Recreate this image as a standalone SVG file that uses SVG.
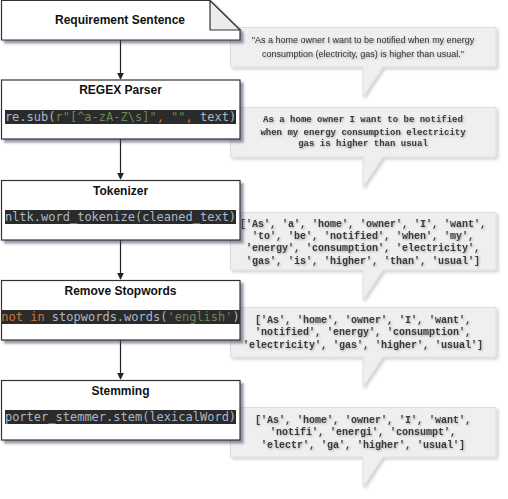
<svg xmlns="http://www.w3.org/2000/svg" width="508" height="499" viewBox="0 0 508 499">
<defs>
<filter id="sh" x="-10%" y="-10%" width="130%" height="140%">
<feDropShadow dx="3" dy="3" stdDeviation="1.3" flood-color="#3c4260" flood-opacity="0.55"/>
</filter>
<filter id="csh" x="-10%" y="-10%" width="130%" height="140%">
<feDropShadow dx="2" dy="2" stdDeviation="1.5" flood-color="#000" flood-opacity="0.18"/>
</filter>
<filter id="tsh" x="-5%" y="-20%" width="115%" height="160%">
<feDropShadow dx="1" dy="1" stdDeviation="0.8" flood-color="#000" flood-opacity="0.3"/>
</filter>
<marker id="arr" viewBox="0 0 10 10" refX="9" refY="5" markerWidth="7" markerHeight="7" markerUnits="userSpaceOnUse" orient="auto">
<path d="M0,0 L10,5 L0,10 Z" fill="#222"/>
</marker>
</defs>
<style>
.box{fill:#fff;stroke:#333;stroke-width:1.2}
.title{font-family:"Liberation Sans",Arial,sans-serif;font-weight:bold;font-size:12px;fill:#111;text-anchor:middle}
.bar{fill:#2b2b2b}
.code{font-family:"DejaVu Sans Mono",monospace;font-size:12px;fill:#a9b7c6;text-anchor:middle}
.g{fill:#6a8759}
.o{fill:#cc7832}
.call{fill:#efefef;stroke:#dddddd;stroke-width:1}
.ct{font-family:"Liberation Sans",Arial,sans-serif;font-size:9px;fill:#333;text-anchor:middle}
.mt{font-family:"Liberation Mono","Courier New",monospace;font-size:10px;font-weight:bold;fill:#3a3a3a;text-anchor:middle}
.mt9{font-size:9px}
.edge{stroke:#222;stroke-width:1.2;fill:none}
</style>

<g id="connectors">
<path class="edge" d="M120.5,40 V79" marker-end="url(#arr)"/>
<path class="edge" d="M120.5,139 V179" marker-end="url(#arr)"/>
<path class="edge" d="M120.5,240 V279" marker-end="url(#arr)"/>
<path class="edge" d="M120.5,340 V379" marker-end="url(#arr)"/>
</g>

<g id="callout1" filter="url(#csh)">
<path class="call" d="M230.5,27.5 H496 V67 H383 L363,97 V67 H230.5 Z"/>
<g filter="url(#tsh)">
<text class="ct" x="363" y="43">"As a home owner I want to be notified when my energy</text>
<text class="ct" x="363" y="57">consumption (electricity, gas) is higher than usual."</text>
</g>
</g>

<g id="callout2" filter="url(#csh)">
<path class="call" d="M230.5,107.5 H496 V157 H383 L363,187 V157 H230.5 Z"/>
<g filter="url(#tsh)">
<text class="mt mt9" x="363" y="122">As a home owner I want to be notified</text>
<text class="mt mt9" x="363" y="134.5">when my energy consumption electricity</text>
<text class="mt mt9" x="363" y="146">gas is higher than usual</text>
</g>
</g>

<g id="callout3" filter="url(#csh)">
<path class="call" d="M230.5,212.5 H496 V270 H383 L363,300 V270 H230.5 Z"/>
<g filter="url(#tsh)">
<text class="mt" x="363" y="226.5">['As', 'a', 'home', 'owner', 'I', 'want',</text>
<text class="mt" x="363" y="239">'to', 'be', 'notified', 'when', 'my',</text>
<text class="mt" x="363" y="251">'energy', 'consumption', 'electricity',</text>
<text class="mt" x="363" y="263.5">'gas', 'is', 'higher', 'than', 'usual']</text>
</g>
</g>

<g id="callout4" filter="url(#csh)">
<path class="call" d="M230.5,307.5 H496 V357 H383 L363,387 V357 H230.5 Z"/>
<g filter="url(#tsh)">
<text class="mt" x="363" y="322.5">['As', 'home', 'owner', 'I', 'want',</text>
<text class="mt" x="363" y="335">'notified', 'energy', 'consumption',</text>
<text class="mt" x="363" y="347.5">'electricity', 'gas', 'higher', 'usual']</text>
</g>
</g>

<g id="callout5" filter="url(#csh)">
<path class="call" d="M230.5,407.5 H496 V457 H383 L363,487 V457 H230.5 Z"/>
<g filter="url(#tsh)">
<text class="mt" x="363" y="422.5">['As', 'home', 'owner', 'I', 'want',</text>
<text class="mt" x="363" y="435">'notifi', 'energi', 'consumpt',</text>
<text class="mt" x="363" y="447.5">'electr', 'ga', 'higher', 'usual']</text>
</g>
</g>

<g id="requirement">
<path class="box" filter="url(#sh)" d="M1.5,0.5 H210 L240,30 V40 H1.5 Z"/>
<path d="M210,0.5 V30 H240 Z" fill="#ececec" stroke="#333" stroke-width="1.2" stroke-linejoin="round"/>
<text class="title" x="120" y="24">Requirement Sentence</text>
</g>

<g id="regex">
<rect class="box" filter="url(#sh)" x="1.5" y="80" width="238.5" height="59"/>
<text class="title" x="120.5" y="94">REGEX Parser</text>
<rect class="bar" x="5" y="110" width="231" height="14"/>
<text class="code" x="120.5" y="121">re.sub(<tspan class="g">r"[^a-zA-Z\s]"</tspan><tspan class="o">, </tspan><tspan class="g">""</tspan><tspan class="o">, </tspan>text)</text>
</g>

<g id="tokenizer">
<rect class="box" filter="url(#sh)" x="1.5" y="180.5" width="238.5" height="59.5"/>
<text class="title" x="120.5" y="194.5">Tokenizer</text>
<rect class="bar" x="5" y="210" width="231" height="14"/>
<text class="code" x="120.5" y="221">nltk.word_tokenize(cleaned_text)</text>
</g>

<g id="stopwords">
<rect class="box" filter="url(#sh)" x="1.5" y="280.5" width="238.5" height="59.5"/>
<text class="title" x="120.5" y="294.5">Remove Stopwords</text>
<rect class="bar" x="1.5" y="310" width="238.5" height="14"/>
<text class="code" x="120.5" y="321"><tspan class="o">not in</tspan> stopwords.words(<tspan class="g">'english'</tspan>)</text>
</g>

<g id="stemming">
<rect class="box" filter="url(#sh)" x="1.5" y="380.5" width="238.5" height="59.5"/>
<text class="title" x="120.5" y="394.5">Stemming</text>
<rect class="bar" x="5" y="410" width="231" height="14"/>
<text class="code" x="120.5" y="421">porter_stemmer.stem(lexicalWord)</text>
</g>
</svg>
